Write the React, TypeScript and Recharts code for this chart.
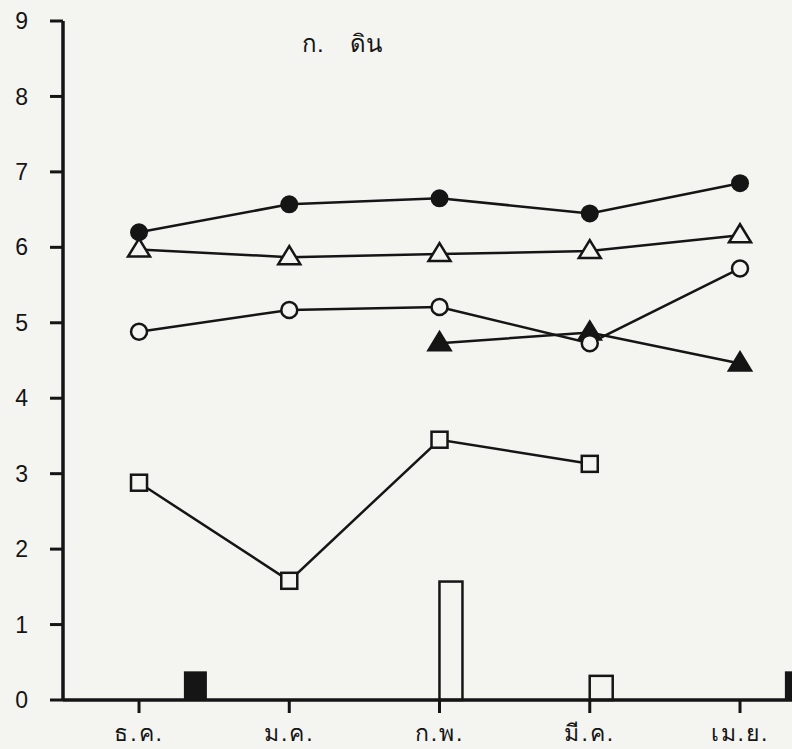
import React from 'react';
import { ComposedChart, Line, Bar, XAxis, YAxis } from 'recharts';

// month categories (x index 0..4)
const months = ['ธ.ค.', 'ม.ค.', 'ก.พ.', 'มี.ค.', 'เม.ย.'];
const yTicks = [0, 1, 2, 3, 4, 5, 6, 7, 8, 9];

// line series, one value per month (null = not measured)
const filledCircle = [6.2, 6.57, 6.65, 6.45, 6.85];
const openTriangle = [5.97, 5.87, 5.91, 5.95, 6.16];
const openCircle = [4.88, 5.17, 5.21, 4.73, 5.72];
const filledTriangle = [null, null, 4.73, 4.87, 4.46];
const openSquare = [2.88, 1.58, 3.45, 3.13, null];

// bars: month index, offset from the month tick (in month units), value
const blackBarMonth = [0, 4];
const blackBarValue = [0.38, 0.38];
const blackBarOffset = 0.376;
const openBarMonth = [2, 3];
const openBarValue = [1.57, 0.32];
const openBarOffset = 0.077;

const INK = '#151515';
const PAPER = '#f4f4f1';
const BAR_W = 23;

type Row = { x: number; [k: string]: number | null };

const buildData = () => {
  const rows: Row[] = months.map((_, i) => ({
    x: i,
    fc: filledCircle[i],
    ot: openTriangle[i],
    oc: openCircle[i],
    ft: filledTriangle[i],
    os: openSquare[i],
  }));
  blackBarMonth.forEach((m, i) => rows.push({ x: m + blackBarOffset, black: blackBarValue[i] }));
  openBarMonth.forEach((m, i) => rows.push({ x: m + openBarOffset, open: openBarValue[i] }));
  return rows.sort((a, b) => a.x - b.x);
};

const data = buildData();

// keep the bar centred on its x value but with the drawn width of the original
const barShape = (fill: string, stroke?: string) => (props: any) => {
  const { x, y, width, height } = props;
  if (!height || height <= 0) return <g />;
  const cx = x + width / 2;
  return (
    <rect
      x={cx - BAR_W / 2}
      y={y}
      width={BAR_W}
      height={height}
      fill={fill}
      stroke={stroke}
      strokeWidth={stroke ? 2.5 : 0}
    />
  );
};

const makeDot = (kind: string) => (props: any) => {
  const { cx, cy, index } = props;
  const key = `${kind}-${index}`;
  if (cx == null || cy == null || props.value == null) return <g key={key} />;
  if (kind === 'fc') return <circle key={key} cx={cx} cy={cy} r={9} fill={INK} />;
  if (kind === 'oc') return <circle key={key} cx={cx} cy={cy} r={8} fill={PAPER} stroke={INK} strokeWidth={2.5} />;
  if (kind === 'os') return <rect key={key} x={cx - 8} y={cy - 8} width={16} height={16} fill={PAPER} stroke={INK} strokeWidth={2.5} />;
  const filled = kind === 'ft';
  const pts = `${cx},${cy - 11} ${cx - 11},${cy + 7} ${cx + 11},${cy + 7}`;
  return <polygon key={key} points={pts} fill={filled ? INK : PAPER} stroke={INK} strokeWidth={2.5} strokeLinejoin="miter" />;
};

const lineProps = {
  type: 'linear' as const,
  stroke: INK,
  strokeWidth: 2.5,
  connectNulls: true,
  isAnimationActive: false,
  activeDot: false,
};

export default function App() {
  return (
    <div style={{ position: 'absolute', left: 0, top: 0, width: 792, height: 749, background: PAPER }}>
      <ComposedChart
        width={792}
        height={749}
        data={data}
        margin={{ top: 21, right: 0, bottom: 0, left: 0 }}
        style={{ fontFamily: '"Liberation Sans", "Noto Sans", sans-serif' }}
      >
        <XAxis
          dataKey="x"
          type="number"
          domain={[-0.506, 4.346]}
          allowDataOverflow
          ticks={[0, 1, 2, 3, 4]}
          interval={0}
          tickFormatter={(v: number) => months[v] ?? ''}
          height={49}
          tickSize={13}
          tickMargin={12}
          axisLine={{ stroke: INK, strokeWidth: 3.5 }}
          tickLine={{ stroke: INK, strokeWidth: 3 }}
          tick={{ fill: INK, fontSize: 23, letterSpacing: 2 }}
        />
        <YAxis
          type="number"
          domain={[0, 9]}
          ticks={yTicks}
          interval={0}
          width={63}
          tickSize={13}
          tickMargin={22}
          axisLine={{ stroke: INK, strokeWidth: 3.5 }}
          tickLine={{ stroke: INK, strokeWidth: 3 }}
          tick={{ fill: INK, fontSize: 23 }}
        />
        <Bar dataKey="black" stackId="b" fill={INK} shape={barShape(INK)} isAnimationActive={false} />
        <Bar dataKey="open" stackId="b" fill={PAPER} shape={barShape(PAPER, INK)} isAnimationActive={false} />
        <Line dataKey="os" {...lineProps} dot={makeDot('os')} />
        <Line dataKey="ft" {...lineProps} dot={makeDot('ft')} />
        <Line dataKey="oc" {...lineProps} dot={makeDot('oc')} />
        <Line dataKey="ot" {...lineProps} dot={makeDot('ot')} />
        <Line dataKey="fc" {...lineProps} dot={makeDot('fc')} />
      </ComposedChart>
      <div
        style={{
          position: 'absolute',
          left: 302,
          top: 24,
          fontSize: 24,
          color: INK,
          fontFamily: '"Liberation Sans", "Noto Sans", sans-serif',
          whiteSpace: 'pre',
        }}
      >
        ก.    ดิน
      </div>
    </div>
  );
}
